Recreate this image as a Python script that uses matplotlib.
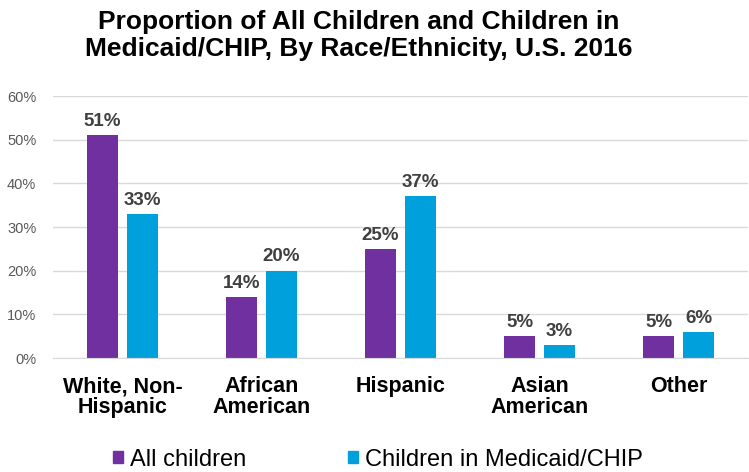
import numpy as np
import matplotlib.pyplot as plt
from matplotlib.patches import Patch

plt.rcParams['font.family'] = ['Liberation Sans', 'DejaVu Sans']

# Data
categories = ["White, Non-\nHispanic", "African\nAmerican", "Hispanic", "Asian\nAmerican", "Other"]
all_children = [51, 14, 25, 5, 5]
medicaid_chip = [33, 20, 37, 3, 6]
series_names = ["All children", "Children in Medicaid/CHIP"]
colors = ["#7030A0", "#00A0DC"]

fig = plt.figure(figsize=(7.49, 4.72), dpi=100)
ax = fig.add_axes([0.0708, 0.2415, 0.928, 0.5551])

x = np.arange(len(categories))
width = 0.223
offset = 0.144

bars1 = ax.bar(x - offset, all_children, width, color=colors[0])
bars2 = ax.bar(x + offset, medicaid_chip, width, color=colors[1])

for bars, vals in [(bars1, all_children), (bars2, medicaid_chip)]:
    for b, v in zip(bars, vals):
        ax.text(b.get_x() + b.get_width() / 2, v + 1.2, f"{v}%", ha='center', va='bottom',
                fontsize=13.5, fontweight='bold', color='#404040')

ax.set_xlim(-0.5, len(categories) - 0.5)
ax.set_ylim(0, 60)
ax.set_yticks(range(0, 61, 10))
ax.set_yticklabels([f"{t}%" for t in range(0, 61, 10)], fontsize=10.5, color='#595959')
ax.set_xticks(x)
ax.set_xticklabels(categories, fontsize=15.5, fontweight='bold', color='black', linespacing=1.0)
ax.tick_params(axis='both', length=0)
ax.tick_params(axis='x', pad=13)
ax.tick_params(axis='y', pad=12)
ax.grid(axis='y', color='#D9D9D9', linewidth=1)
ax.set_axisbelow(True)
for s in ['top', 'right', 'left']:
    ax.spines[s].set_visible(False)
ax.spines['bottom'].set_color('#D9D9D9')

fig.text(0.479, 0.925, "Proportion of All Children and Children in\nMedicaid/CHIP, By Race/Ethnicity, U.S. 2016",
         ha='center', va='center', fontsize=19, fontweight='bold', linespacing=1.15)

handles = [Patch(color=c) for c in colors]
fig.legend(handles, series_names, loc='center', bbox_to_anchor=(0.505, 0.026), ncol=2,
           frameon=False, fontsize=17.0, handlelength=0.42, handleheight=0.42,
           handletextpad=0.3, columnspacing=4.3, borderpad=0.1)

fig.savefig("out.png", dpi=100)
